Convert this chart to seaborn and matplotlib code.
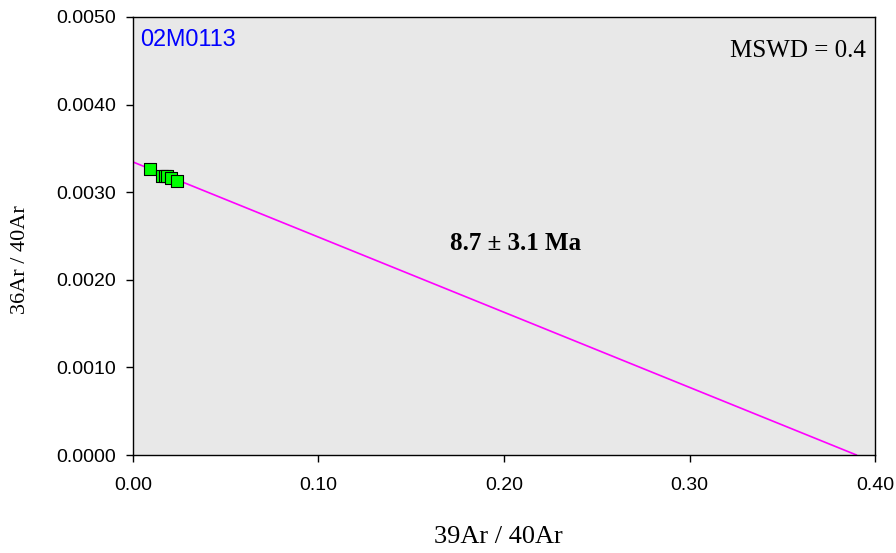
import matplotlib
matplotlib.use("Agg")
import matplotlib.pyplot as plt
import seaborn as sns
import numpy as np

# isochron data
ar39_ar40 = [0.0092, 0.0157, 0.0170, 0.0185, 0.0205, 0.0235]
ar36_ar40 = [0.00327, 0.00319, 0.00319, 0.00318, 0.00316, 0.00313]

# fitted isochron: y intercept and x intercept
y_intercept = 0.003345
x_intercept = 0.390

x_ticks = [0.0, 0.1, 0.2, 0.3, 0.4]
y_ticks = [0.0, 0.001, 0.002, 0.003, 0.004, 0.005]

sns.set_style("ticks")
plt.rcParams['font.family'] = ['Liberation Sans', 'DejaVu Sans']
for key in ['text.color', 'axes.labelcolor', 'xtick.color', 'ytick.color', 'axes.edgecolor']:
    plt.rcParams[key] = 'black'

fig = plt.figure(figsize=(8.96, 5.53), dpi=100)
ax = fig.add_axes([0.1484, 0.1772, 0.8282, 0.7921])
ax.set_facecolor('#e8e8e8')

sns.lineplot(x=[0, x_intercept], y=[y_intercept, 0], color='#ff00ff', linewidth=1.2, ax=ax)
sns.scatterplot(x=ar39_ar40, y=ar36_ar40, marker='s', s=80, color='#00ff00',
                edgecolor='black', linewidth=0.8, zorder=3, ax=ax)

ax.set_xlim(0, 0.4)
ax.set_ylim(0, 0.005)
ax.set_xticks(x_ticks)
ax.set_yticks(y_ticks)
ax.set_xticklabels([f'{t:.2f}' for t in x_ticks], fontsize=14)
ax.set_yticklabels([f'{t:.4f}' for t in y_ticks], fontsize=14)
ax.tick_params(direction='out', length=5, width=1, color='black')
ax.tick_params(axis='x', pad=11)
ax.tick_params(axis='y', pad=7)
for s in ax.spines.values():
    s.set_color('black')
    s.set_linewidth(1)

serif = ['Liberation Serif', 'DejaVu Serif']
ax.set_xlabel('39Ar / 40Ar', fontsize=19, family=serif, va='center')
ax.set_ylabel('36Ar / 40Ar', fontsize=16, family=serif, va='center')
ax.xaxis.set_label_coords(0.493, -0.187)
ax.yaxis.set_label_coords(-0.152, 0.445)

ax.text(0.0094, 0.949, '02M0113', transform=ax.transAxes, color='#0000ff', fontsize=16.8,
        ha='left', va='center')
ax.text(0.988, 0.922, 'MSWD = 0.4', transform=ax.transAxes, fontsize=18, family=serif,
        ha='right', va='center')
ax.text(0.516, 0.482, '8.7 ± 3.1 Ma', transform=ax.transAxes, fontsize=18, family=serif,
        fontweight='bold', ha='center', va='center')

fig.savefig('out.png', dpi=100)
plt.close(fig)
